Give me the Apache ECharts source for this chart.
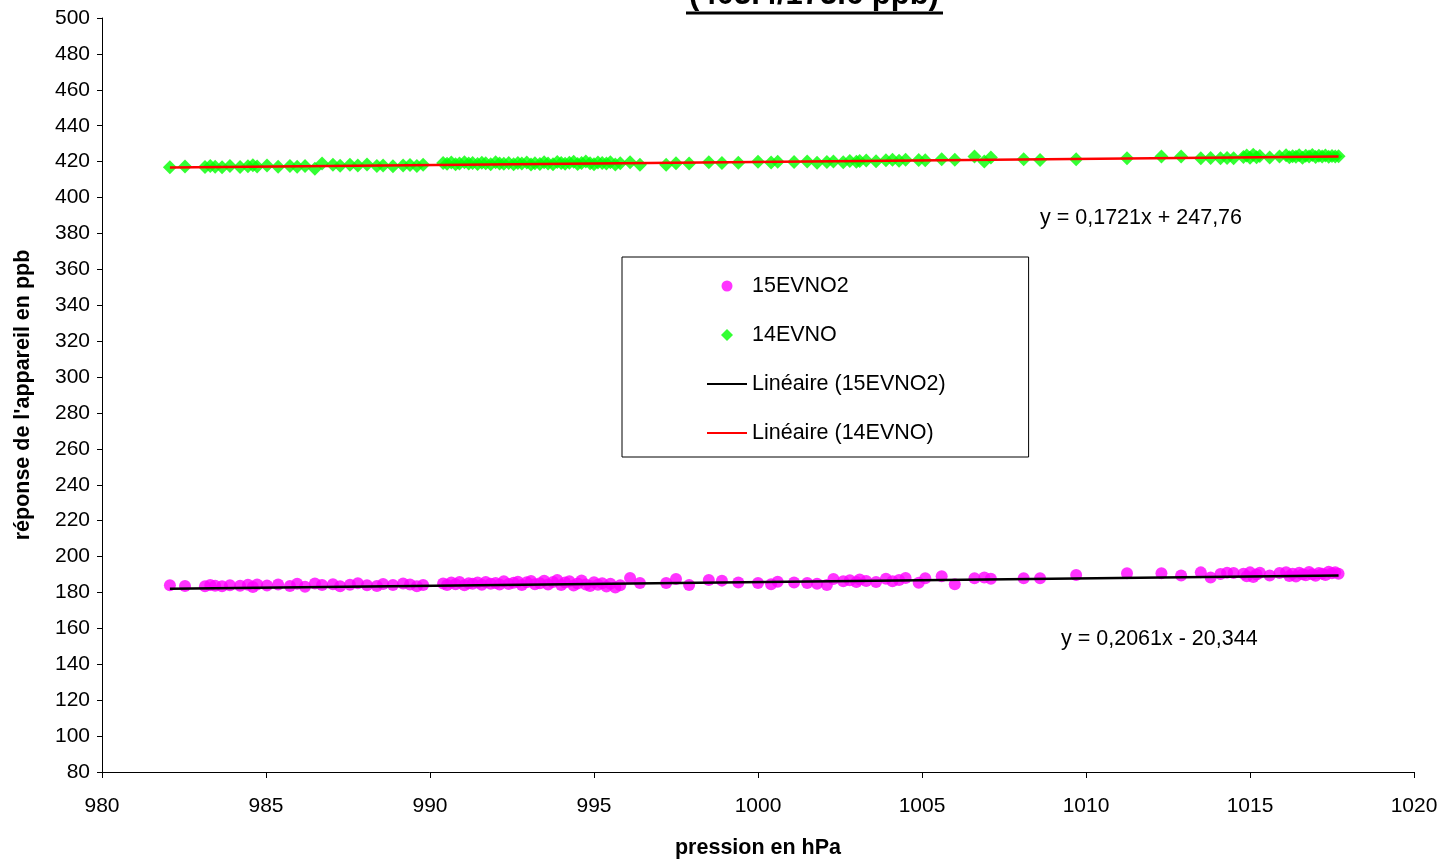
<!DOCTYPE html>
<html>
<head>
<meta charset="utf-8">
<script src="https://cdn.jsdelivr.net/npm/echarts@6/dist/echarts.min.js"></script>
<style>html,body{margin:0;padding:0;background:#fff;}#c{width:1445px;height:861px;}</style>
</head>
<body>
<div id="c"></div>
<script>
// Pressure (hPa) shared by both instruments
const pressure = [
  982.07, 982.53, 983.14, 983.30, 983.45, 983.66, 983.90, 984.21, 984.45, 984.60,
  984.73, 985.03, 985.37, 985.73, 985.95, 986.19, 986.49, 986.71, 987.04, 987.26,
  987.56, 987.80, 988.08, 988.38, 988.57, 988.87, 989.18, 989.39, 989.60, 989.79,
  990.40, 990.52, 990.65, 990.78, 990.90, 991.05, 991.18, 991.30, 991.45, 991.58,
  991.70, 991.85, 992.00, 992.12, 992.25, 992.40, 992.55, 992.68, 992.80, 992.95,
  993.08, 993.20, 993.35, 993.48, 993.60, 993.75, 993.88, 994.00, 994.12, 994.25,
  994.38, 994.50, 994.62, 994.75, 994.88, 995.00, 995.12, 995.25, 995.38, 995.50,
  995.65, 995.80,
  996.10, 996.40, 997.20, 997.50, 997.90, 998.50, 998.90, 999.40, 1000.00, 1000.40,
  1000.60, 1001.10, 1001.50, 1001.80, 1002.10, 1002.30, 1002.60, 1002.80, 1003.00, 1003.10,
  1003.30, 1003.60, 1003.90, 1004.10, 1004.30, 1004.50, 1004.90, 1005.10, 1005.60, 1006.00,
  1006.60, 1006.90, 1007.10, 1008.10, 1008.60, 1009.70, 1011.25, 1012.30, 1012.90, 1013.50,
  1013.80, 1014.10, 1014.30, 1014.50,
  1014.80, 1014.90, 1015.00, 1015.10, 1015.20, 1015.30, 1015.60, 1015.90, 1016.10, 1016.20,
  1016.30, 1016.40, 1016.50, 1016.60, 1016.70, 1016.80, 1016.90, 1017.00, 1017.10, 1017.20,
  1017.30, 1017.40, 1017.50, 1017.60, 1017.70
];
// 14EVNO response (ppb)
const no = [
  416.9, 417.3, 417.0, 417.6, 417.2, 416.8, 417.5, 417.0, 417.4, 418.0,
  417.3, 417.8, 417.2, 417.6, 417.1, 417.5, 416.0, 419.0, 418.2, 417.7,
  418.3, 417.9, 418.4, 417.6, 417.9, 417.4, 417.8, 418.1, 417.5, 418.3,
  419.2, 418.8, 419.5, 418.6, 419.0, 419.6, 418.9, 419.3, 418.7, 419.4,
  419.1, 418.5, 419.7, 419.0, 418.8, 419.3, 418.6, 419.2, 418.9, 419.5,
  418.4, 419.1, 418.7, 419.6, 419.0, 418.5, 419.8, 419.2, 418.8, 419.4,
  419.9, 418.7, 419.3, 420.0, 419.1, 418.6, 419.5, 419.2, 418.9, 419.6,
  418.4, 419.1,
  419.6, 418.3, 418.3, 419.1, 418.9, 419.6, 419.3, 419.4, 419.9, 419.5,
  419.9, 419.8, 420.0, 419.4, 419.8, 420.1, 419.7, 420.4, 419.9, 420.3,
  420.6, 420.2, 420.8, 421.0, 420.5, 421.1, 420.9, 420.7, 421.3, 421.0,
  422.8, 420.0, 422.3, 421.3, 420.9, 421.3, 421.9, 422.8, 422.8, 421.9,
  422.0, 421.9, 422.0, 421.9,
  422.6, 423.4, 422.1, 423.8, 422.5, 423.1, 422.3, 422.8, 423.5, 422.4,
  423.0, 422.7, 423.6, 422.2, 423.2, 422.9, 423.7, 422.6, 423.3, 422.8,
  423.4, 422.7, 423.1, 422.9, 423.0
];
// 15EVNO2 response (ppb)
const no2 = [
  184.0, 183.6, 183.5, 184.2, 183.8, 183.4, 184.0, 183.7, 184.3, 183.1,
  184.5, 183.9, 184.4, 183.6, 184.8, 183.2, 185.0, 184.1, 184.6, 183.5,
  184.3, 185.1, 184.0, 183.6, 184.7, 184.2, 185.0, 184.4, 183.5, 184.1,
  185.0, 184.2, 185.5, 184.6, 185.8, 184.0, 185.2, 184.8, 185.6, 184.3,
  185.9, 184.9, 185.3, 184.5, 186.2, 184.7, 185.4, 186.0, 184.1, 185.7,
  186.4, 184.6, 185.1, 186.6, 184.4, 185.8, 186.9, 184.2, 185.5, 186.3,
  183.9, 185.0, 186.7, 184.5, 183.6, 185.7, 184.3, 185.2, 183.3, 184.9,
  182.8, 184.0,
  188.0, 185.3, 185.3, 187.5, 184.2, 187.0, 186.6, 185.5, 185.3, 184.6,
  186.0, 185.5, 185.3, 184.8, 184.2, 187.5, 186.2, 186.8, 185.9, 187.2,
  186.4, 185.8, 187.6, 186.3, 187.0, 188.0, 185.4, 187.9, 189.0, 184.6,
  187.9, 188.4, 187.6, 187.9, 187.9, 189.7, 190.7, 190.7, 189.4, 191.2,
  188.4, 190.3, 191.0, 190.8,
  190.5, 189.0, 191.2, 188.6, 190.0, 191.0, 189.5, 190.8, 191.3, 189.2,
  190.4, 188.9, 191.0, 190.2, 189.6, 191.4, 190.1, 189.3, 190.9, 190.5,
  189.8, 191.6, 190.7, 191.2, 190.4
];
// Linear fits shown on the chart: [slope, intercept]
const fitNO2 = [0.2061, -20.344];
const fitNO = [0.1721, 247.76];
const eqNO = 'y = 0,1721x + 247,76';
const eqNO2 = 'y = 0,2061x - 20,344';
const titleLine = '(403.4/173.6 ppb)';
const xName = 'pression en hPa';
const yName = "réponse de l'appareil en ppb";

const FONT = '"Liberation Sans", Arial, sans-serif';
const FS = 21.5;
const xmin = Math.min(...pressure), xmax = Math.max(...pressure);
const fitLine = f => [[xmin, f[0] * xmin + f[1]], [xmax, f[0] * xmax + f[1]]];
// legend icons: bounding box padded to the 40x12 icon area so they are not stretched
const diamondIcon = 'path://M0,0 M40,12 M13.5,6 L20,-0.5 L26.5,6 L20,12.5 Z';
const circleIcon = 'path://M0,0 M40,12 M20,0.5 A5.5,5.5 0 1 1 19.99,0.5 Z';

const chart = echarts.init(document.getElementById('c'), null, {renderer: 'canvas'});
chart.setOption({
  animation: false,
  backgroundColor: '#ffffff',
  textStyle: {fontFamily: FONT},
  grid: {left: 102, right: 31, top: 18, bottom: 89, containLabel: false, outerBoundsMode: 'none'},
  xAxis: {
    type: 'value', min: 980, max: 1020, interval: 5,
    name: xName, nameLocation: 'middle', nameGap: 65,
    nameTextStyle: {fontFamily: FONT, fontSize: FS, fontWeight: 'bold', color: '#000'},
    axisLine: {show: true, onZero: false, lineStyle: {color: '#000', width: 1}},
    axisTick: {show: true, inside: false, length: 6, lineStyle: {color: '#000'}},
    axisLabel: {fontFamily: FONT, fontSize: 21, color: '#000', margin: 24,
                formatter: v => String(v)},
    splitLine: {show: false}
  },
  yAxis: {
    type: 'value', min: 80, max: 500, interval: 20,
    name: yName, nameLocation: 'middle', nameGap: 68, nameRotate: 90,
    nameTextStyle: {fontFamily: FONT, fontSize: FS, fontWeight: 'bold', color: '#000'},
    axisLine: {show: true, onZero: false, lineStyle: {color: '#000', width: 1}},
    axisTick: {show: true, inside: false, length: 5, lineStyle: {color: '#000'}},
    axisLabel: {fontFamily: FONT, fontSize: 21, color: '#000', margin: 12,
                formatter: v => String(v)},
    splitLine: {show: false}
  },
  legend: {
    orient: 'vertical', left: 622, top: 257,
    padding: [18, 83, 13, 84],
    itemWidth: 40, itemHeight: 12, itemGap: 27,
    symbolKeepAspect: true,
    borderColor: '#000', borderWidth: 1, backgroundColor: '#fff',
    textStyle: {fontFamily: FONT, fontSize: FS, color: '#000', lineHeight: 20},
    data: [
      {name: '15EVNO2', icon: circleIcon},
      {name: '14EVNO', icon: diamondIcon},
      {name: 'Linéaire (15EVNO2)', itemStyle: {opacity: 0}},
      {name: 'Linéaire (14EVNO)', itemStyle: {opacity: 0}}
    ]
  },
  series: [
    {
      name: '15EVNO2', type: 'scatter', symbol: 'circle', symbolSize: 12,
      itemStyle: {color: '#ff00ff'},
      data: pressure.map((p, i) => [p, no2[i]]), z: 2
    },
    {
      name: '14EVNO', type: 'scatter', symbol: 'diamond', symbolSize: 14,
      itemStyle: {color: '#00ff00'},
      data: pressure.map((p, i) => [p, no[i]]), z: 2
    },
    {
      name: 'Linéaire (15EVNO2)', type: 'line', symbol: 'none', showSymbol: false,
      lineStyle: {color: '#000', width: 2.5}, itemStyle: {color: '#000'},
      data: fitLine(fitNO2), z: 3
    },
    {
      name: 'Linéaire (14EVNO)', type: 'line', symbol: 'none', showSymbol: false,
      lineStyle: {color: '#ff0000', width: 2.5}, itemStyle: {color: '#ff0000'},
      data: fitLine(fitNO), z: 3
    }
  ],
  graphic: [
    {type: 'text', left: 1040, top: 207,
     style: {text: eqNO, font: FS + 'px ' + FONT, fill: '#000'}},
    {type: 'text', left: 1061, top: 628,
     style: {text: eqNO2, font: FS + 'px ' + FONT, fill: '#000'}},
    {type: 'text', x: 814, y: 11,
     style: {text: titleLine, font: 'bold 31px ' + FONT, fill: '#000', align: 'center', verticalAlign: 'bottom'}},
    {type: 'line', shape: {x1: 686, y1: 13, x2: 943, y2: 13}, style: {stroke: '#000', lineWidth: 3}}
  ]
});
</script>
</body>
</html>
